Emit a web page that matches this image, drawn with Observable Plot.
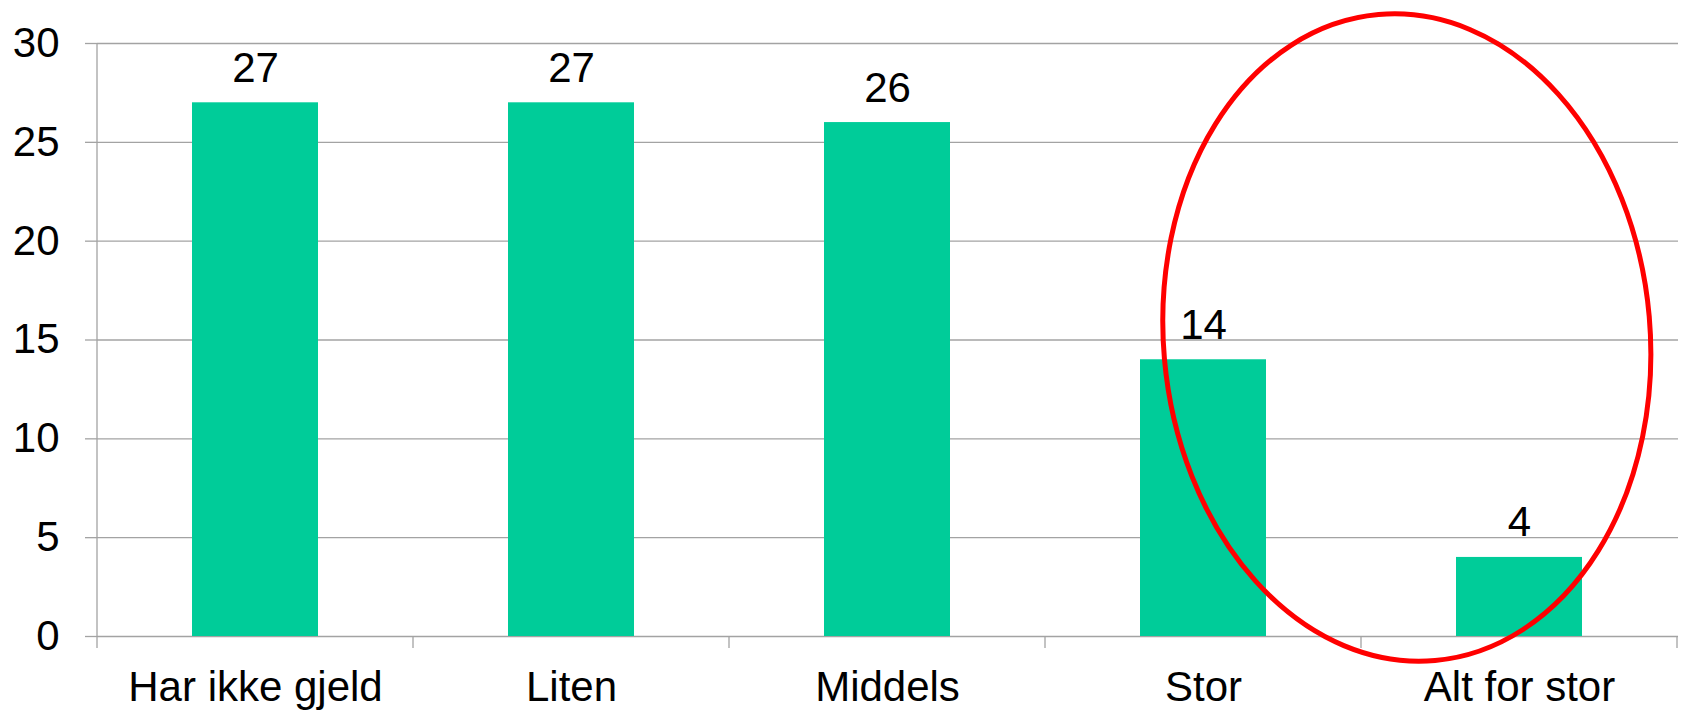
<!DOCTYPE html>
<html><head><meta charset="utf-8">
<script src="https://cdn.jsdelivr.net/npm/d3@7"></script>
<script src="https://cdn.jsdelivr.net/npm/@observablehq/plot@0.6"></script>
<style>body{margin:0;background:#fff} svg{display:block}</style>
</head><body><div id="chart"></div>
<script>
const categories = ["Har ikke gjeld", "Liten", "Middels", "Stor", "Alt for stor"];
const values = [27, 27, 26, 14, 4];
const yTicks = [0, 5, 10, 15, 20, 25, 30];

// highlight ellipse around the last two categories, in data units
const ellipseAfter = "Stor";          // ellipse centre sits past the boundary after this band
const ellipseOffsetBands = 0.145;     // offset from that boundary, in bands
const ellipseCenterValue = 15.1;      // y value of centre
const ellipseRadiusBands = 0.77;      // horizontal radius, in bands
const ellipseRadiusValue = 16.4;      // vertical radius, in y units
const ellipseRotate = -5;             // degrees

const data = categories.map((c, i) => ({category: c, value: values[i]}));
const GRID = "#a3a3a3";
const FS = 42;

function decorations(index, scales, vals, dims) {
  const {x, y} = scales;
  const step = x(categories[1]) - x(categories[0]);
  const bw = typeof x.bandwidth === "function" ? x.bandwidth() : (x.bandwidth ?? step * 0.4);
  const g = d3.create("svg:g");
  const y0 = y(0);
  // category boundary ticks
  const bounds = categories.map(c => x(c) + bw / 2 - step / 2);
  bounds.push(x(categories[categories.length - 1]) + bw / 2 + step / 2);
  for (const b of bounds) {
    g.append("line").attr("x1", b).attr("x2", b).attr("y1", y0).attr("y2", y0 + 12)
      .attr("stroke", GRID).attr("stroke-width", 1.3);
  }
  // y axis line
  g.append("line").attr("x1", bounds[0]).attr("x2", bounds[0])
    .attr("y1", y(yTicks[yTicks.length - 1])).attr("y2", y0)
    .attr("stroke", GRID).attr("stroke-width", 1.3);
  // ellipse
  const bIdx = categories.indexOf(ellipseAfter) + 1;
  const cx = bounds[bIdx] + ellipseOffsetBands * step;
  const cy = y(ellipseCenterValue);
  const rx = ellipseRadiusBands * step;
  const ry = y(0) - y(ellipseRadiusValue);
  g.append("ellipse").attr("cx", cx).attr("cy", cy).attr("rx", rx).attr("ry", ry)
    .attr("transform", `rotate(${ellipseRotate} ${cx} ${cy})`)
    .attr("fill", "none").attr("stroke", "#ff0000").attr("stroke-width", 5);
  return g.node();
}

const chart = Plot.plot({
  width: 1683,
  height: 710,
  marginLeft: 97,
  marginRight: 5,
  marginTop: 43,
  marginBottom: 74,
  style: {fontFamily: "'Liberation Sans', Arial, sans-serif", fontSize: FS + "px", background: "#fff", color: "#000"},
  x: {domain: categories, paddingInner: 0.6, paddingOuter: 0.3, label: null},
  y: {domain: [0, 30], label: null},
  marks: [
    Plot.gridY(yTicks, {stroke: GRID, strokeOpacity: 1, strokeWidth: 1.3}),
    Plot.axisY(yTicks, {tickSize: 12, tickPadding: 26, fontSize: FS, stroke: GRID, strokeWidth: 1.3, fill: "#000", label: null}),
    Plot.axisX({tickSize: 0, tickPadding: 34.5, fontSize: FS, fill: "#000", label: null}),
    Plot.barY(data, {x: "category", y: "value", fill: "#00cc99"}),
    Plot.text(data, {x: "category", y: "value", text: d => String(d.value), lineAnchor: "bottom", dy: -21, fontSize: FS, fill: "#000"}),
    decorations
  ]
});
document.getElementById("chart").appendChild(chart);
</script>
</body></html>
